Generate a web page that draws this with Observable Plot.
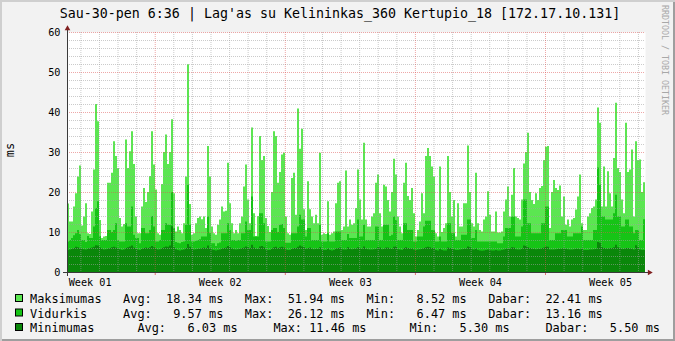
<!DOCTYPE html>
<html><head><meta charset="utf-8">
<script src="https://cdn.jsdelivr.net/npm/d3@7"></script>
<script src="https://cdn.jsdelivr.net/npm/@observablehq/plot@0.6"></script>
<style>
html,body{margin:0;padding:0;background:#f2f2f2;}
#chart{position:relative;width:675px;height:341px;background:#f2f2f2;box-shadow:inset 2px 2px 0 #cfcfcf, inset -2px -2px 0 #9e9e9e;overflow:hidden;}
#chart svg{position:absolute;left:0;top:0;}
</style></head><body><div id="chart"></div>
<script>
// ---- data (one value per 2-pixel time step) ----
const maxValues = [
17.1,12.6,12.6,16.4,19.7,23.9,26.6,11.6,13.9,17.2,
9.7,9.5,15.1,25.6,42,37.7,13,8.52,8.9,9.0,
22.3,22.3,24.8,32.7,29,26,13.5,11.4,12,33.1,
26,30.2,35.2,27,13.9,9.7,9.7,16.4,21,17.5,
20,24,35.2,26.9,20.6,9.7,9.3,22,30,34.4,
27,30,38.2,19.7,10.1,11.4,10.5,9.7,12.2,23.9,
51.94,17,9.3,9.7,12.2,13.5,13.9,13.2,13.9,11,
31.5,23.9,11.4,9.7,9.3,11.8,13.1,16.4,15.1,15.3,
27.3,17.2,12.2,9.7,10.5,9.7,12.2,13.9,21.4,26.9,
18.1,12.2,36.1,14.7,9,14,34,28,29,13.5,
11.5,10,20,35.2,34,22.3,25,29.4,29.8,13.9,
9.7,9.3,23.5,24.8,14.3,40.9,30.8,35.8,15.7,10.5,
22.7,15.7,13.9,12.2,14.3,12.2,29.8,9.3,9.7,9.5,
17.7,9.3,9.7,10.1,17.2,22.3,22.7,10.5,11.4,25.4,
11.4,13.1,11.8,12.2,16,25.6,18.1,13.1,32.3,13.1,
11.4,11.4,13.9,14.7,22.3,24.4,14.7,11.4,21.8,21.4,
18,15.1,20,28.3,24.4,13.9,11.4,9.7,22.3,27.3,
19,18,21,14.7,8.9,10.5,12.6,19.7,14.7,29,
31,29,26.4,23.9,9.7,8.9,26.4,10,11,12.2,
29,20,13.9,18,8.9,17.2,11.4,11.4,17.2,17.2,
31.6,20,12.2,11.4,24.8,12.2,10.5,10.1,13.1,13.9,
20.2,14.3,10.1,10.1,15.1,9.9,9.9,10.1,15.1,18.1,
21.4,13.9,19.3,26,13.9,13.5,13.1,18.1,27.1,30,
34.8,20,18,17,19.7,18,21,21.5,28,31.3,
31.5,11,20,23,21,20.5,21.6,13.9,18.9,11.8,
13.1,11.4,13.1,13.5,15.6,18.9,24.4,12.2,10.5,10.5,
13.9,14.7,16,16.4,18.1,41.1,37.3,16.4,26.4,16.4,
25.2,19.7,16.4,28.5,42.3,26,25,18.1,14.7,37.3,
25,25.6,30.6,13.9,32.7,28,28.1,20,22.41];
const avgValues = [
7.6,8.0,8.5,9.2,9.7,10.5,9.5,8,8,7.5,
9,8.5,8.5,11.4,16,17.7,9,8,8,8,
10.5,10.5,10,10.5,12.2,8,7.6,7.6,7.6,12.2,
11.4,11.4,16.4,9.3,8.5,8.5,7.2,11,11,9.7,
9.7,10.5,14,11.4,7.6,7.6,8,10.5,10.5,12.2,
11.8,11.8,20,11,7.5,7.3,7.2,7.5,7.6,11.8,
21.8,11.8,7.6,7.6,7.8,8,8.2,8.9,8.9,8.9,
13.9,9.7,7.2,7.2,6.47,7.2,7.4,9.7,9.7,9.7,
12.2,10.5,8,8,7.8,8,8,9.7,9.7,12.6,
10.5,10.5,18.9,8.9,8.9,8.9,14.7,14.7,12.2,7.6,
7.6,7.6,10.5,11,11,10,11.8,12,11,7.3,
7.3,7.3,9.7,9.7,9.7,11.4,14.3,13.1,13.1,8.9,
11,11,8,8,8,8,11.8,7.6,7.6,7.6,
9.7,7.6,7.6,7.6,10.1,10.1,10.1,8,8,8,
9.5,8.5,8.5,8.5,8.5,13.1,8.9,8.9,11.8,8,
8,8,8,8,11.4,11.4,8,8,11.8,11.8,
11.8,9,9.3,13.9,13,8,8,8,12.2,12.2,
10.5,10.5,10.5,7.6,7.6,8.9,8.9,8.9,11.4,12.8,
12.8,12.8,10.5,10.5,7.6,7.6,8.9,7.6,7.6,7.6,
12.2,12.2,9.7,9.7,8,8,8,9.3,9.3,9.3,
13.1,13.1,8.5,8.5,10.5,7.6,7.6,7.6,7.6,7.6,
7.6,7.6,7.6,7.6,7.6,7.2,7.2,7.2,8.9,11,
11,11,13.9,13.9,8.9,8.9,8.9,11.4,18.1,18.1,
12.2,12.2,9.7,9.7,9.7,9.7,9.7,12.2,12.2,16.4,
16.4,8,8,8,9.7,9.7,9.7,10.5,10.5,10.5,
8.9,8.9,8.9,9.7,9.7,9.7,9.7,11.4,8,8,
8,8,8,10.5,10.5,26.12,21.8,13.9,13.9,13.1,
13.1,13.1,13.1,14.7,19.3,13.9,13.9,11.4,11.4,13.1,
13.1,11.4,11.4,9.7,10.5,10.5,8,8,13.16];
const minValues = [
5.5,5.6,5.8,6.0,6.3,6.2,6.0,5.8,5.7,5.6,
5.9,6.0,6.1,6.3,6.7,6.6,6.1,5.8,5.6,5.7,
5.9,6.0,6.2,6.3,6.1,5.9,5.7,5.5,5.6,6.0,
6.2,6.4,6.6,6.1,5.8,5.6,5.5,5.8,6.0,6.1,
6.0,6.2,6.5,6.2,5.8,5.6,5.7,6.0,6.2,6.4,
6.3,6.6,11.46,6.2,5.7,5.5,5.4,5.5,5.6,6.0,
7.0,6.3,5.8,5.6,5.7,5.8,5.9,6.0,6.1,6.0,
6.6,6.0,5.6,5.5,5.4,5.5,5.6,5.9,6.0,6.1,
6.5,6.2,5.9,5.7,5.6,5.7,5.8,6.0,6.1,6.4,
6.2,6.0,6.8,6.1,5.8,5.8,6.4,6.5,6.2,5.6,
5.5,5.5,5.9,6.2,6.3,6.0,6.2,6.3,6.1,5.6,
5.5,5.5,5.8,6.0,6.0,6.3,6.6,6.4,6.2,5.8,
6.0,6.1,5.8,5.7,5.8,5.8,6.2,5.6,5.5,5.5,
5.9,5.5,5.4,5.5,5.9,6.0,6.1,5.7,5.6,5.6,
6.2,5.8,5.7,5.8,5.9,6.2,5.9,5.8,6.4,5.8,
5.7,5.6,5.6,5.7,5.8,6.2,6.1,5.7,5.8,6.1,
6.1,5.9,5.8,6.3,6.4,5.7,5.6,5.5,6.0,6.2,
6.0,5.9,5.9,5.6,5.5,5.6,5.7,5.8,6.0,6.2,
6.3,6.2,6.0,6.0,5.5,5.4,5.8,5.5,5.4,5.4,
6.1,6.0,5.8,5.7,5.5,5.5,5.6,5.7,5.8,5.9,
6.4,6.2,5.7,5.6,5.9,5.5,5.4,5.3,5.4,5.5,
5.6,5.5,5.4,5.4,5.5,5.4,5.4,5.5,5.6,5.8,
5.9,5.9,6.2,6.1,5.7,5.6,5.6,5.9,6.6,6.5,
6.2,6.0,5.8,5.8,5.7,5.8,5.8,6.0,6.1,6.4,
6.3,5.6,5.6,5.6,5.7,5.8,5.8,5.9,5.9,5.8,
5.7,5.6,5.6,5.7,5.8,5.8,5.7,5.9,5.5,5.5,
5.5,5.6,5.6,5.7,5.8,7.5,7.3,6.2,6.0,5.9,
5.9,6.0,6.0,6.2,6.8,6.2,6.0,5.8,5.8,6.0,
6.0,5.9,5.8,5.6,6.7,6.2,5.6,5.5,5.50];

const seriesNames = ["Maksimumas", "Vidurkis", "Minimumas"];
const seriesColors = ["#5be651", "#16c416", "#0a870a"];
const statAvg = ["18.34", "9.57", "6.03"];
const statMax = ["51.94", "26.12", "11.46"];
const statMin = ["8.52", "6.47", "5.30"];
const statNow = ["22.41", "13.16", "5.50"];
const yTickLabels = [0, 10, 20, 30, 40, 50, 60];
const weekLabels = ["Week 01", "Week 02", "Week 03", "Week 04", "Week 05"];
const weekStarts = [4.72, 11.72, 18.72, 25.72];   // days from left edge
const weekMids = [1.22, 8.22, 15.22, 22.22, 29.22];
const titleText = "Sau-30-pen 6:36 | Lag'as su Kelininkas_360 Kertupio_18 [172.17.10.131]";
const yUnit = "ms";
const watermark = "RRDTOOL / TOBI OETIKER";

// ---- build ----
const DAYS = 31.1;
const STEP = DAYS / maxValues.length;
const rows = maxValues.map((m, i) => ({t: i * STEP, max: m, avg: avgValues[i], min: minValues[i]}));
rows.push({...rows[rows.length - 1], t: DAYS});

const yMinor = d3.range(2, 60, 2).filter(v => v % 10 !== 0);
const yMajor = yTickLabels.filter(v => v > 0);
const dayLines = d3.range(0.72, DAYS, 1).filter(d => !weekStarts.some(w => Math.abs(w - d) < 0.01));

const gridCol = "#a0a0a0", mgridCol = "#de4f4f", axisCol = "#3a3a3a", arrowCol = "#801f1f";
const dash = "1,1";

const plot = Plot.plot({
  width: 675, height: 290,
  marginLeft: 67, marginRight: 30, marginTop: 32, marginBottom: 18,
  x: {domain: [0, DAYS], axis: null},
  y: {domain: [0, 60]},
  style: {background: "transparent", fontFamily: "'DejaVu Sans Mono', monospace", fontSize: "10.2px", color: "#000", overflow: "visible"},
  marks: [
    Plot.frame({fill: "#ffffff", stroke: "none"}),
    Plot.areaY(rows, {x: "t", y: "max", fill: seriesColors[0], curve: "step-after"}),
    Plot.areaY(rows, {x: "t", y: "avg", fill: seriesColors[1], curve: "step-after"}),
    Plot.areaY(rows, {x: "t", y: "min", fill: seriesColors[2], curve: "step-after"}),
    Plot.ruleY(yMinor, {stroke: gridCol, strokeOpacity: 0.55, strokeDasharray: dash}),
    Plot.ruleX(dayLines, {stroke: gridCol, strokeOpacity: 0.55, strokeDasharray: dash}),
    Plot.ruleY(yMajor, {stroke: mgridCol, strokeOpacity: 0.5, strokeDasharray: dash}),
    Plot.ruleX(weekStarts, {stroke: mgridCol, strokeOpacity: 0.5, strokeDasharray: dash}),
    Plot.ruleX(weekStarts, {y1: 0, y2: 0, insetBottom: -3, stroke: mgridCol, strokeOpacity: 0.8}),
    Plot.ruleY([0], {stroke: axisCol, insetLeft: -4, insetRight: -3}),
    Plot.ruleX([0], {stroke: axisCol, insetTop: -4, insetBottom: -4}),
    Plot.dot([0], {x: 0, y: 60, symbol: "triangle", r: 2.1, fill: arrowCol, stroke: "none", dy: -4}),
    Plot.dot([0], {x: DAYS, y: 0, symbol: "triangle", r: 2.1, fill: arrowCol, stroke: "none", dx: 4, rotate: 90}),
    Plot.axisY(yTickLabels, {tickSize: 0, tickPadding: 7, label: null}),
    Plot.text(weekLabels, {x: (d, i) => weekMids[i], y: 0, text: d => d, lineAnchor: "top", dy: 6})
  ]
});
const chart = document.getElementById("chart");
chart.appendChild(plot);

// ---- texts: title, unit, watermark, legend ----
const svg = d3.select(chart).append("svg").attr("width", 675).attr("height", 341)
  .style("font-family", "'DejaVu Sans Mono', monospace");
svg.append("text").attr("x", 340).attr("y", 18).attr("text-anchor", "middle")
  .style("font-size", "13.3px").attr("fill", "#000").text(titleText);
svg.append("text").attr("transform", "translate(14,150) rotate(-90)").attr("text-anchor", "middle")
  .style("font-size", "11.9px").attr("fill", "#000").text(yUnit);
svg.append("text").attr("transform", "translate(661.5,5) rotate(90)")
  .style("font-size", "8.3px").attr("fill", "#a8a8a8").text(watermark);

const pad = (s, n) => s.padStart(n, " ");
const legendLines = [
  seriesNames[0].padEnd(13) + "Avg:" + pad(statAvg[0], 7) + " ms   Max:" + pad(statMax[0], 7) + " ms   Min:" + pad(statMin[0], 7) + " ms   Dabar:" + pad(statNow[0], 7) + " ms",
  seriesNames[1].padEnd(13) + "Avg:" + pad(statAvg[1], 7) + " ms   Max:" + pad(statMax[1], 7) + " ms   Min:" + pad(statMin[1], 7) + " ms   Dabar:" + pad(statNow[1], 7) + " ms",
  seriesNames[2].padEnd(15) + "Avg:" + pad(statAvg[2], 7) + " ms     Max:" + pad(statMax[2], 6) + " ms      Min:" + pad(statMin[2], 7) + " ms     Dabar:" + pad(statNow[2], 7) + " ms"
];
const rowBase = [303, 317.5, 332];
legendLines.forEach((line, i) => {
  svg.append("rect").attr("x", 15.5).attr("y", rowBase[i] - 8.5).attr("width", 7).attr("height", 7)
    .attr("fill", seriesColors[i]).attr("stroke", "#000").attr("stroke-width", 1);
  svg.append("text").attr("x", 30).attr("y", rowBase[i]).style("font-size", "11.9px")
    .style("white-space", "pre").attr("fill", "#000").text(line);
});
</script></body></html>
